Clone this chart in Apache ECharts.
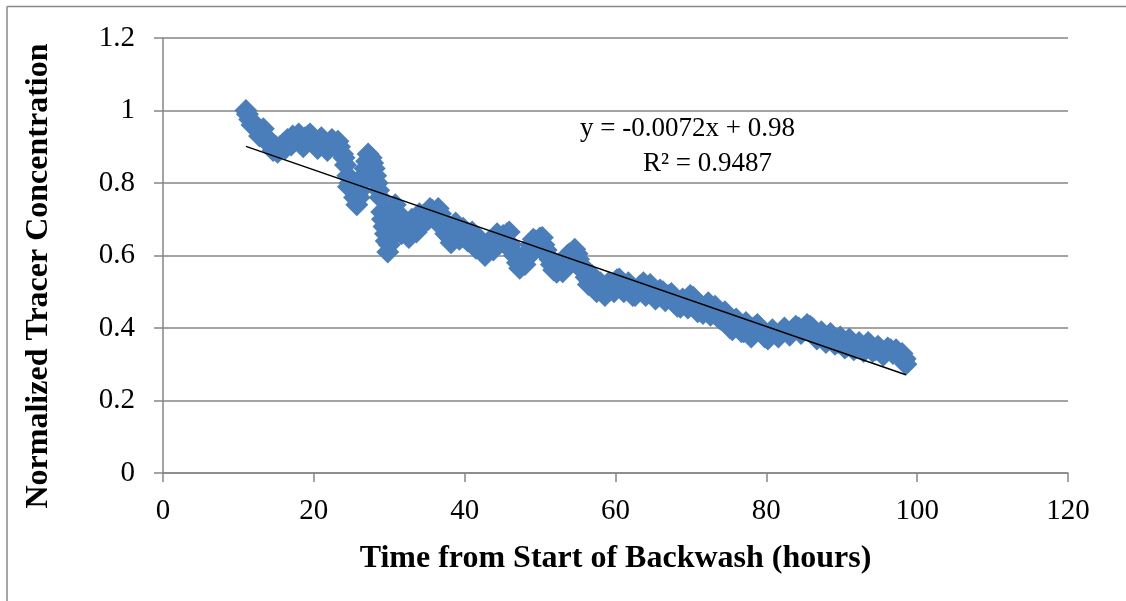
<!DOCTYPE html>
<html>
<head>
<meta charset="utf-8">
<script src="https://cdn.jsdelivr.net/npm/echarts@6/dist/echarts.min.js"></script>
<style>
html,body{margin:0;padding:0;background:#fff;}
#chart{width:1126px;height:601px;}
</style>
</head>
<body>
<div id="chart"></div>
<script>
// Observed data: hours from start of backwash, normalized tracer concentration
var hours = [11.0,11.2,11.5,11.8,12.2,12.6,13.0,13.5,14.0,14.6,15.0,15.5,16.0,16.5,17.2,17.8,18.3,18.8,19.2,19.8,20.3,20.8,21.3,22.1,22.6,23.0,23.4,23.8,24.2,24.5,24.8,25.2,25.7,26.0,26.4,26.8,27.2,27.6,28.0,28.4,28.8,29.0,29.3,29.6,29.8,30.2,30.6,31.0,31.4,31.8,32.3,32.8,33.3,33.8,34.3,34.8,35.4,35.9,36.5,37.0,37.5,38.0,38.5,39.0,39.5,40.0,40.7,41.2,41.7,42.3,43.0,43.5,44.0,44.6,45.1,45.6,46.1,46.6,47.0,47.3,47.8,48.3,48.8,49.4,50.0,50.5,51.0,51.5,52.2,52.8,53.3,53.9,54.6,55.1,55.6,56.1,56.6,57.2,57.8,58.3,58.8,59.4,60.2,60.8,61.4,62.3,62.9,63.7,64.3,65.0,65.5,66.3,67.0,67.8,68.6,69.3,69.9,70.6,71.2,71.6,72.3,72.9,73.6,74.5,75.2,75.8,76.3,77.0,77.6,78.3,78.8,79.3,79.8,80.5,81.2,82.0,82.8,83.5,84.3,85.0,85.8,86.4,87.0,87.6,88.2,88.8,89.5,90.2,90.7,91.3,92.0,92.6,93.3,93.8,94.5,95.2,95.8,96.5,97.0,97.5,97.9,98.2,98.5];
var concentration = [1.00,0.99,0.975,0.96,0.955,0.945,0.94,0.93,0.92,0.89,0.90,0.90,0.91,0.92,0.93,0.92,0.915,0.925,0.93,0.915,0.91,0.92,0.905,0.90,0.91,0.905,0.90,0.88,0.85,0.82,0.80,0.78,0.74,0.76,0.80,0.84,0.88,0.87,0.84,0.80,0.76,0.72,0.68,0.64,0.61,0.65,0.69,0.72,0.70,0.68,0.66,0.67,0.69,0.68,0.70,0.71,0.73,0.71,0.73,0.70,0.66,0.65,0.67,0.68,0.66,0.65,0.66,0.64,0.63,0.62,0.61,0.63,0.64,0.65,0.655,0.66,0.63,0.60,0.58,0.565,0.59,0.61,0.63,0.64,0.648,0.63,0.60,0.575,0.554,0.57,0.59,0.605,0.617,0.59,0.56,0.54,0.53,0.52,0.51,0.505,0.497,0.51,0.533,0.52,0.51,0.49,0.50,0.525,0.51,0.49,0.485,0.50,0.49,0.47,0.457,0.47,0.49,0.47,0.45,0.44,0.47,0.45,0.43,0.445,0.40,0.42,0.41,0.39,0.385,0.40,0.41,0.39,0.375,0.38,0.385,0.39,0.39,0.395,0.40,0.40,0.405,0.39,0.38,0.37,0.375,0.37,0.36,0.36,0.35,0.36,0.35,0.345,0.35,0.353,0.34,0.34,0.335,0.34,0.335,0.33,0.32,0.31,0.30];
// Further readings interleaved with the above (band spread)
var hoursB = [12.0,12.8,13.3,14.2,15.2,16.2,17.0,18.0,18.6,19.5,20.5,21.0,21.8,22.4,23.2,24.0,24.6,25.4,26.2,26.6,27.0,27.8,28.2,28.6,29.1,29.5,30.0,30.4,30.8,31.6,32.0,32.6,33.0,33.6,34.0,34.6,35.2,35.7,36.2,36.8,37.3,38.2,38.8,39.3,39.8,40.4,41.0,41.5,42.0,42.7,43.3,43.8,44.3,45.3,45.9,46.4,47.5,48.0,48.6,49.1,49.7,50.3,50.8,51.3,51.8,52.5,53.0,53.6,54.2,54.9,55.4,55.9,56.4,56.9,57.5,58.0,58.6,59.1,59.8,60.5,61.1,61.7,62.6,63.2,64.0,64.6,65.3,65.9,66.6,67.4,68.2,68.9,69.6,70.3,70.9,71.9,72.6,73.2,73.9,74.8,75.5,76.0,76.7,77.3,78.0,78.6,79.0,79.6,80.2,80.8,81.6,82.4,83.1,83.9,84.6,85.4,86.1,86.7,87.3,87.9,88.5,89.1,89.8,90.4,91.0,91.6,92.3,92.9,93.5,94.1,94.8,95.5,96.1,96.8,97.2,97.7,98.0,98.4];
var concentrationB = [0.965,0.93,0.95,0.905,0.885,0.895,0.905,0.935,0.90,0.935,0.895,0.925,0.89,0.92,0.915,0.87,0.79,0.76,0.78,0.82,0.86,0.855,0.82,0.78,0.70,0.66,0.63,0.67,0.74,0.66,0.695,0.65,0.70,0.665,0.715,0.69,0.70,0.725,0.695,0.715,0.68,0.635,0.69,0.645,0.675,0.64,0.665,0.62,0.645,0.60,0.64,0.615,0.66,0.64,0.665,0.61,0.59,0.575,0.60,0.645,0.625,0.65,0.615,0.59,0.56,0.575,0.555,0.60,0.59,0.605,0.575,0.555,0.52,0.545,0.50,0.525,0.49,0.525,0.50,0.535,0.50,0.525,0.49,0.515,0.49,0.52,0.48,0.505,0.475,0.495,0.46,0.48,0.455,0.485,0.445,0.46,0.435,0.46,0.425,0.435,0.395,0.425,0.39,0.415,0.375,0.39,0.405,0.385,0.37,0.395,0.375,0.40,0.38,0.405,0.385,0.41,0.40,0.37,0.39,0.36,0.385,0.355,0.375,0.345,0.37,0.34,0.36,0.335,0.36,0.335,0.35,0.325,0.345,0.33,0.34,0.325,0.33,0.315];
// Linear trendline endpoints (y = -0.0072x + 0.98)
var trendX = [11.0, 98.5];
var trendY = [0.901, 0.271];
var xTicks = [0, 20, 40, 60, 80, 100, 120];
var yTicks = [0, 0.2, 0.4, 0.6, 0.8, 1, 1.2];
var equationText = 'y = -0.0072x + 0.98';
var r2Text = 'R² = 0.9487';
var xTitle = 'Time from Start of Backwash (hours)';
var yTitle = 'Normalized Tracer Concentration';

var scatterData = hours.map(function(h, i){ return [h, concentration[i]]; })
  .concat(hoursB.map(function(h, i){ return [h, concentrationB[i]]; }));
var trendData = trendX.map(function(x, i){ return [x, trendY[i]]; });

var serif = '"Liberation Serif","Times New Roman",serif';
var chart = echarts.init(document.getElementById('chart'));
chart.setOption({
  animation: false,
  backgroundColor: '#fff',
  grid: {left: 163, top: 38, right: 58, bottom: 128, containLabel: false},
  xAxis: {
    type: 'value', min: 0, max: 120, interval: 20,
    name: xTitle, nameLocation: 'middle', nameGap: 70,
    nameTextStyle: {fontFamily: serif, fontWeight: 'bold', fontSize: 32, color: '#000'},
    axisLine: {show: true, lineStyle: {color: '#868686', width: 1.5}},
    axisTick: {show: true, length: 9, inside: false, lineStyle: {color: '#868686', width: 1.5}},
    axisLabel: {fontFamily: serif, fontSize: 29, color: '#000', margin: 24,
      formatter: function(v){ return xTicks.indexOf(v) >= 0 ? String(v) : ''; }},
    splitLine: {show: false}
  },
  yAxis: {
    type: 'value', min: 0, max: 1.2, interval: 0.2,
    axisLine: {show: true, lineStyle: {color: '#868686', width: 1.5}},
    axisTick: {show: true, length: 9, lineStyle: {color: '#868686', width: 1.5}},
    axisLabel: {fontFamily: serif, fontSize: 29, color: '#000', margin: 28,
      formatter: function(v){
        var r = Math.round(v * 10) / 10;
        for (var i = 0; i < yTicks.length; i++) if (Math.abs(yTicks[i] - r) < 1e-9) return String(yTicks[i]);
        return '';
      }},
    splitLine: {show: true, lineStyle: {color: '#868686', width: 1.5}}
  },
  series: [
    {
      type: 'scatter', data: scatterData, symbol: 'diamond', symbolSize: 23,
      itemStyle: {color: '#4a7ebb', opacity: 1}, z: 2
    },
    {
      type: 'line', data: trendData, symbol: 'none', showSymbol: false,
      lineStyle: {color: '#000', width: 1.5}, z: 3
    }
  ],
  graphic: [
    {type: 'line', shape: {x1: 7, y1: 6.5, x2: 1126, y2: 6.5}, style: {stroke: '#888', lineWidth: 1.5}, silent: true},
    {type: 'line', shape: {x1: 7, y1: 6.5, x2: 7, y2: 601}, style: {stroke: '#888', lineWidth: 1.5}, silent: true},
    {type: 'text', x: 39, y: 276, rotation: Math.PI / 2,
      style: {text: yTitle, font: 'bold 32px ' + serif, fill: '#000', align: 'center', verticalAlign: 'middle'}},
    {type: 'text', left: 580, top: 115, style: {text: equationText, font: '27px ' + serif, fill: '#000'}},
    {type: 'text', left: 643, top: 150, style: {text: r2Text, font: '27px ' + serif, fill: '#000'}}
  ]
});
</script>
</body>
</html>
